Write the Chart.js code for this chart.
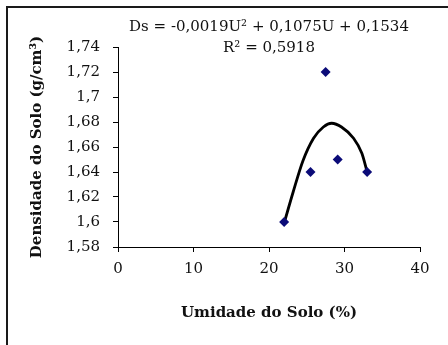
<!DOCTYPE html>
<html>
<head>
<meta charset="utf-8">
<script src="https://cdn.jsdelivr.net/npm/chart.js@4/dist/chart.umd.min.js"></script>
<style>
  html, body { margin: 0; padding: 0; background: #fff; }
  #frame {
    position: absolute; left: 6px; top: 6px; right: 0; bottom: 0;
    border-left: 2px solid #1a1a1a; border-top: 2px solid #1a1a1a;
  }
  #box { position: absolute; left: 0; top: 0; width: 448px; height: 345px; }
</style>
</head>
<body>
<div id="frame"></div>
<div id="box"><canvas id="soloChart"></canvas></div>
<script>
// measured points: soil moisture (%) vs soil density (g/cm3)
const umidade = [22, 25.5, 27.5, 29.1, 33];
const densidade = [1.60, 1.64, 1.72, 1.65, 1.64];

// polynomial trend line
const trendU = [22, 23.2, 24.5, 25.9, 27.2, 28.3, 29.6, 31.2, 32.3, 33];
const trendDs = [1.599, 1.624, 1.649, 1.667, 1.676, 1.679, 1.676, 1.667, 1.655, 1.640];

const yTicks = ['1,58', '1,6', '1,62', '1,64', '1,66', '1,68', '1,7', '1,72', '1,74'];
const xTicks = ['0', '10', '20', '30', '40'];

const equation = ['Ds = -0,0019U\u00b2 + 0,1075U + 0,1534', 'R\u00b2 = 0,5918'];

const serif = 'DejaVu Serif';

// draws the regression equation above the plot
const equationLabel = {
    id: 'equationLabel',
    afterDraw(chart) {
        const ctx = chart.ctx;
        const area = chart.chartArea;
        const cx = (area.left + area.right) / 2;
        ctx.save();
        ctx.fillStyle = '#111';
        ctx.font = '15px "' + serif + '"';
        ctx.textAlign = 'center';
        ctx.textBaseline = 'middle';
        ctx.fillText(equation[0], cx, area.top - 20);
        ctx.fillText(equation[1], cx, area.top + 1);
        ctx.restore();
    }
};

function initSoloChart() {
    const points = umidade.map((u, i) => ({ x: u, y: densidade[i] }));
    const trend = trendU.map((u, i) => ({ x: u, y: trendDs[i] }));

    new Chart(document.getElementById('soloChart'), {
        type: 'scatter',
        data: {
            datasets: [{
                data: points,
                pointStyle: 'rectRot',
                pointRadius: 5,
                pointBackgroundColor: '#0b0b78',
                pointBorderColor: '#0b0b78',
                pointBorderWidth: 0
            }, {
                data: trend,
                showLine: true,
                borderColor: '#000',
                borderWidth: 2.8,
                cubicInterpolationMode: 'monotone',
                pointRadius: 0
            }]
        },
        options: {
            responsive: true,
            maintainAspectRatio: false,
            animation: false,
            layout: { padding: { top: 47, right: 28, bottom: 0, left: 0 } },
            plugins: {
                legend: { display: false },
                tooltip: { enabled: false }
            },
            scales: {
                x: {
                    type: 'linear',
                    min: 0,
                    max: 40,
                    afterFit: (scale) => { scale.height = 98; },
                    afterBuildTicks: (scale) => {
                        scale.ticks = xTicks.map(t => ({ value: Number(t) }));
                    },
                    ticks: {
                        color: '#111',
                        padding: 8,
                        font: { family: serif, size: 15 },
                        callback: (v, i) => xTicks[i]
                    },
                    grid: { drawOnChartArea: false, drawTicks: true, tickLength: 5, color: '#000' },
                    border: { display: true, color: '#000', width: 1 },
                    title: {
                        display: true,
                        text: 'Umidade do Solo (%)',
                        color: '#111',
                        font: { family: serif, size: 15, weight: 'bold' },
                        padding: { top: 0, bottom: 23 }
                    }
                },
                y: {
                    min: 1.58,
                    max: 1.74,
                    afterFit: (scale) => { scale.width = 118; },
                    afterBuildTicks: (scale) => {
                        scale.ticks = yTicks.map(t => ({ value: Number(t.replace(',', '.')) }));
                    },
                    ticks: {
                        color: '#111',
                        padding: 13,
                        font: { family: serif, size: 15 },
                        callback: (v, i) => yTicks[i]
                    },
                    grid: { drawOnChartArea: false, drawTicks: true, tickLength: 5, color: '#000' },
                    border: { display: true, color: '#000', width: 1 },
                    title: {
                        display: true,
                        text: 'Densidade do Solo (g/cm\u00b3)',
                        color: '#111',
                        font: { family: serif, size: 15, weight: 'bold' },
                        padding: { top: 28, bottom: 0 }
                    }
                }
            }
        },
        plugins: [equationLabel]
    });
}

initSoloChart();
</script>
</body>
</html>
